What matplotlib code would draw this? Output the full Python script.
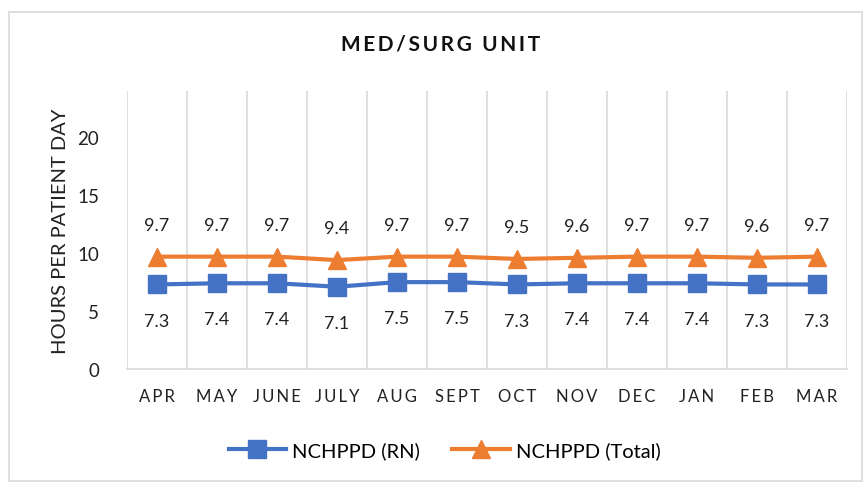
import numpy as np
import matplotlib.pyplot as plt
from matplotlib.patches import Rectangle

# Данные
months = ["APR", "MAY", "JUNE", "JULY", "AUG", "SEPT", "OCT", "NOV", "DEC", "JAN", "FEB", "MAR"]
rn = [7.3, 7.4, 7.4, 7.1, 7.5, 7.5, 7.3, 7.4, 7.4, 7.4, 7.3, 7.3]
total = [9.7, 9.7, 9.7, 9.4, 9.7, 9.7, 9.5, 9.6, 9.7, 9.7, 9.6, 9.7]

plt.rcParams["font.family"] = ["Lato", "DejaVu Sans"]

fig = plt.figure(figsize=(8.65, 4.85), dpi=100)
fig.patches.append(Rectangle((9 / 865, 3 / 485), 853 / 865, 469 / 485, transform=fig.transFigure,
                             fill=False, edgecolor="#d9d9d9", linewidth=1.2))
ax = fig.add_axes([127 / 865, 115 / 485, 720 / 865, 278 / 485])

x = np.arange(len(months))
ax.plot(x, rn, color="#4472C4", linewidth=3, marker="s", markersize=12.5, label="NCHPPD (RN)")
ax.plot(x, total, color="#ED7D31", linewidth=3, marker="^", markersize=12.5, label="NCHPPD (Total)")

# Подписи значений
for i in x:
    ax.annotate(f"{total[i]:.1f}", (i, total[i]), xytext=(0, 23), textcoords="offset points",
                ha="center", va="center", fontsize=13, color="#222222")
    ax.annotate(f"{rn[i]:.1f}", (i, rn[i]), xytext=(0, -26), textcoords="offset points",
                ha="center", va="center", fontsize=13, color="#222222")

ax.set_xlim(-0.5, len(months) - 0.5)
ax.set_ylim(0, 24)
ax.set_yticks([0, 5, 10, 15, 20])
ax.set_xticks(x)
ax.set_xticklabels(["\u2009".join(m) for m in months], fontsize=12, color="#222222")
ax.set_xticks(np.arange(-0.5, len(months)), minor=True)
ax.grid(which="minor", axis="x", color="#d9d9d9", linewidth=1.2)
ax.tick_params(axis="both", which="both", length=0)
ax.tick_params(axis="y", labelsize=13.5, pad=20, colors="#222222")
ax.tick_params(axis="x", pad=14)
for s in ["top", "right", "left"]:
    ax.spines[s].set_visible(False)
ax.spines["bottom"].set_color("#d9d9d9")
ax.spines["bottom"].set_linewidth(1.2)

ax.set_ylabel("HOURS PER PATIENT DAY", fontsize=14.5, color="#222222", labelpad=6)
fig.text(0.509, 0.908, "\u2009".join("MED/SURG") + "  " + "\u2009".join("UNIT"),
         ha="center", va="center", fontsize=15, fontweight="bold", color="#111111")

fig.legend(loc="center", bbox_to_anchor=(0.514, 0.07), ncol=2, frameon=False, fontsize=14.5,
           handlelength=2.85, columnspacing=1.6, handletextpad=0.3)

plt.savefig("out.png", dpi=100)
